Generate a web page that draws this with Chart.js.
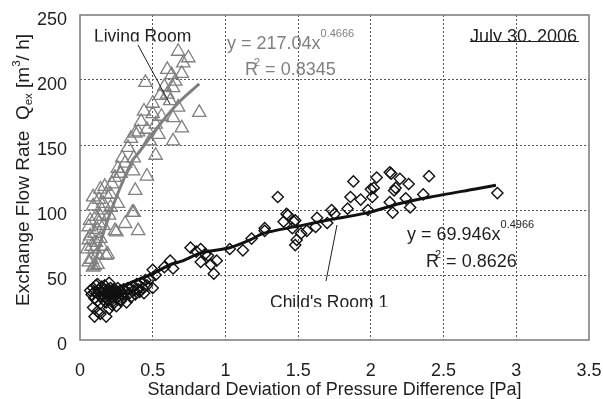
<!DOCTYPE html>
<html>
<head>
<meta charset="utf-8">
<script src="https://cdn.jsdelivr.net/npm/chart.js@4/dist/chart.umd.min.js"></script>
<style>
  html, body { margin: 0; padding: 0; background: #fff; }
</style>
</head>
<body>
<canvas id="flowChart" width="603" height="399"></canvas>
<script>
/* ---------- data ---------- */
const xTicks = [0, 0.5, 1, 1.5, 2, 2.5, 3, 3.5];
const yTicks = [0, 50, 100, 150, 200, 250];

// Living Room (grey triangles)
const livingPoints = [
    [0.675,222],[0.745,217],[0.71,213],[0.45,198],[0.63,204],[0.70,205],[0.655,199],[0.64,194],
    [0.82,175],[0.60,189],[0.62,184],[0.675,179],[0.50,174],[0.56,172],[0.64,171],[0.70,163],
    [0.38,159],[0.46,162],[0.54,158],[0.48,153],[0.64,153],[0.52,142],[0.31,136],[0.37,140],
    [0.275,128],[0.46,126],[0.38,115],[0.14,116],[0.21,112],[0.37,98],[0.31,89.5],[0.40,84],
    [0.25,83],[0.21,102],[0.07,80],[0.12,66],[0.19,66],[0.09,56],[0.07,92],[0.365,130],
    [0.28,128],[0.18,112],[0.26,105],[0.36,98],[0.09,103],[0.24,84],[0.06,87],[0.06,77],
    [0.18,65],[0.10,57],[0.05,70],[0.08,62],[0.10,70],[0.11,75],[0.12,85],[0.13,90],
    [0.14,95],[0.15,100],[0.16,105],[0.11,95],[0.13,108],[0.17,118],[0.09,110],[0.10,82],
    [0.14,78],[0.16,88],[0.20,96],[0.22,120],[0.24,125],[0.26,132],[0.29,140],[0.33,148],
    [0.35,155],[0.40,160],[0.42,168],[0.44,176],[0.50,182],[0.55,188],[0.58,195],[0.60,208],
    [0.52,166],[0.06,60],[0.08,72],[0.12,58],[0.15,72]
];
const livingTrend = [[0.09,54],[0.16,82],[0.25,110],[0.36,138],[0.41,145],[0.55,166],[0.69,184],[0.82,197]];

// Child's Room 1 (black diamonds)
const childPoints = [
    [0.07,38],[0.08,35],[0.09,40],[0.10,37],[0.10,32],[0.11,42],[0.12,36],[0.12,30],[0.13,39],
    [0.14,34],[0.14,28],[0.15,41],[0.15,36],[0.16,31],[0.16,38],[0.17,33],[0.17,42],[0.18,36],
    [0.18,29],[0.19,39],[0.19,34],[0.20,37],[0.20,31],[0.21,40],[0.21,35],[0.22,33],[0.22,38],
    [0.23,36],[0.23,30],[0.24,39],[0.24,34],[0.25,37],[0.26,33],[0.26,40],[0.27,36],[0.28,38],
    [0.28,31],[0.29,35],[0.30,39],[0.30,33],[0.31,37],[0.32,29],[0.33,40],[0.34,36],[0.35,33],
    [0.36,41],[0.37,38],[0.38,35],[0.39,43],[0.40,39],[0.41,37],[0.42,44],[0.43,40],[0.44,36],
    [0.45,46],[0.46,42],[0.48,47],[0.50,54],[0.50,40],[0.52,50],[0.10,18],[0.12,22],[0.14,20],
    [0.18,18],[0.20,24],[0.22,27],[0.25,26],[0.28,30],[0.09,25],[0.12,43],[0.20,44],
    [0.62,61],[0.64,55],[0.58,56],[0.76,71],[0.80,68],[0.83,70],[0.83,60],[0.86,66],[0.88,65],
    [0.92,51],[0.94,61],[0.90,58],[1.03,70],[1.12,69],[1.18,78],[1.27,84],[1.27,86],[1.36,110],
    [1.40,91],[1.42,97],[1.43,96],[1.46,86],[1.48,92],[1.47,91],[1.49,77],[1.48,73],[1.52,82],
    [1.56,84],[1.62,87],[1.63,94],[1.70,90],[1.73,100],[1.75,97],[1.84,101],[1.86,110],[1.88,122],
    [1.93,108],[1.98,100],[2.00,116],[2.01,110],[2.02,117],[2.04,125],[2.13,129],[2.13,106],
    [2.14,128],[2.15,98],[2.16,115],[2.17,117],[2.20,124],[2.24,109],[2.26,120],[2.27,102],
    [2.36,112],[2.40,126],[2.87,113]
];
const childTrend = [[0.09,33],[0.30,42],[0.50,51],[0.62,58],[0.71,61],[0.83,67],[1.03,71],[1.17,77],
    [1.26,82],[1.47,87],[1.52,88],[1.74,93],[1.98,98],[2.20,105],[2.41,110],[2.71,116],[2.86,119]];

const FONT = "'Liberation Sans', Arial, sans-serif";
const GREY = "#808080";
const INK = "#1e1e1e";

const toXY = arr => arr.map(p => ({ x: p[0], y: p[1] }));

// draw a run of text pieces: [text, size, dy, dx]
function drawRuns(ctx, x, y, parts) {
    let cx = x;
    parts.forEach(([t, s, dy, dx]) => {
        cx += dx || 0;
        ctx.font = s + "px " + FONT;
        ctx.fillText(t, cx, y + dy);
        cx += ctx.measureText(t).width;
    });
}
function runsWidth(ctx, parts) {
    let w = 0;
    parts.forEach(([t, s, dy, dx]) => { ctx.font = s + "px " + FONT; w += ctx.measureText(t).width + (dx || 0); });
    return w;
}

/* ---------- frame, titles and notes ---------- */
const notesPlugin = {
    id: "notes",
    afterDraw(chart) {
        const ctx = chart.ctx;
        const a = chart.chartArea;
        ctx.save();

        // frame
        ctx.strokeStyle = "#7a7a7a";
        ctx.lineWidth = 1.5;
        ctx.strokeRect(a.left, a.top, a.right - a.left, a.bottom - a.top);

        ctx.textBaseline = "alphabetic";
        ctx.textAlign = "left";

        // x title
        ctx.fillStyle = INK;
        ctx.font = "18px " + FONT;
        ctx.textAlign = "center";
        ctx.fillText("Standard Deviation of Pressure Difference [Pa]", (a.left + a.right) / 2, 395);
        ctx.textAlign = "left";

        // y title (rotated)
        const yParts = [["Exchange Flow Rate  Q", 19, 0], ["ex", 11.5, 3], [" [m", 19, 0], ["3", 11.5, -9], ["/ h]", 19, 0]];
        ctx.save();
        ctx.translate(29, 170);
        ctx.rotate(-Math.PI / 2);
        drawRuns(ctx, -runsWidth(ctx, yParts) / 2, 0, yParts);
        ctx.restore();

        // Living Room label (clipped like the original)
        ctx.save();
        ctx.beginPath();
        ctx.rect(80, 20, 200, 21.5);
        ctx.clip();
        ctx.fillStyle = INK;
        ctx.font = "17.5px " + FONT;
        ctx.fillText("Living Room", 94, 42);
        ctx.restore();

        // July 30, 2006
        ctx.save();
        ctx.beginPath();
        ctx.rect(460, 20, 130, 21.5);
        ctx.clip();
        ctx.fillStyle = INK;
        ctx.font = "18px " + FONT;
        ctx.fillText("July 30, 2006", 470, 42);
        ctx.restore();
        ctx.strokeStyle = INK;
        ctx.lineWidth = 1;
        ctx.beginPath();
        ctx.moveTo(470, 41.5);
        ctx.lineTo(579, 41.5);
        ctx.stroke();

        // Child's Room 1
        ctx.save();
        ctx.beginPath();
        ctx.rect(260, 290, 140, 17);
        ctx.clip();
        ctx.fillStyle = INK;
        ctx.font = "17.5px " + FONT;
        ctx.fillText("Child's Room 1", 270, 308);
        ctx.restore();

        // leader lines
        ctx.strokeStyle = INK;
        ctx.lineWidth = 1;
        ctx.beginPath();
        ctx.moveTo(138, 45); ctx.lineTo(170, 104);
        ctx.moveTo(337, 225); ctx.lineTo(326, 281);
        ctx.stroke();

        // equations
        ctx.fillStyle = GREY;
        drawRuns(ctx, 227, 49, [["y = 217.04x", 18, 0], ["0.4666", 11, -12]]);
        drawRuns(ctx, 245, 75, [["R", 18, 0], ["2", 11, -9, -4], [" = 0.8345", 18, 0]]);
        ctx.fillStyle = INK;
        drawRuns(ctx, 407, 240, [["y = 69.946x", 18, 0], ["0.4966", 11, -12]]);
        drawRuns(ctx, 426, 267, [["R", 18, 0], ["2", 11, -9, -4], [" = 0.8626", 18, 0]]);

        ctx.restore();
    }
};

const gridColor = c => (c.tick && (c.tick.value === c.scale.min || c.tick.value === c.scale.max)) ? "rgba(0,0,0,0)" : "#555";

new Chart(document.getElementById("flowChart"), {
    type: "scatter",
    data: {
        datasets: [
            {
                data: toXY(childTrend),
                showLine: true,
                borderColor: "#111",
                borderWidth: 3,
                pointRadius: 0,
                tension: 0.25,
                order: 0
            },
            {
                data: toXY(livingTrend),
                showLine: true,
                borderColor: GREY,
                borderWidth: 3,
                pointRadius: 0,
                tension: 0.25,
                order: 1
            },
            {
                data: toXY(childPoints),
                pointStyle: "rectRot",
                pointRadius: 5.6,
                borderColor: "#111",
                borderWidth: 1.4,
                backgroundColor: "rgba(0,0,0,0)",
                order: 2
            },
            {
                data: toXY(livingPoints),
                pointStyle: "triangle",
                pointRadius: 7.7,
                borderColor: GREY,
                borderWidth: 1.3,
                backgroundColor: "rgba(0,0,0,0)",
                order: 3
            }
        ]
    },
    options: {
        responsive: false,
        animation: false,
        events: [],
        layout: { padding: { top: 15, right: 14, left: 0, bottom: 0 } },
        plugins: {
            legend: { display: false },
            tooltip: { enabled: false }
        },
        scales: {
            x: {
                type: "linear",
                min: xTicks[0],
                max: xTicks[xTicks.length - 1],
                afterFit: s => { s.height = 59; s.paddingLeft = 0; s.paddingRight = 0; },
                afterBuildTicks: s => { s.ticks = xTicks.map(v => ({ value: v })); },
                ticks: {
                    color: INK,
                    font: { family: FONT, size: 18 },
                    padding: 20,
                    maxRotation: 0,
                    callback: v => String(v)
                },
                grid: { color: gridColor, lineWidth: 1, drawTicks: false },
                border: { display: false, dash: [2, 2] }
            },
            y: {
                type: "linear",
                min: yTicks[0],
                max: yTicks[yTicks.length - 1],
                afterFit: s => { s.width = 80; s.paddingTop = 0; s.paddingBottom = 0; },
                afterBuildTicks: s => { s.ticks = yTicks.map(v => ({ value: v })); },
                ticks: {
                    color: INK,
                    font: { family: FONT, size: 18 },
                    padding: 13,
                    labelOffset: 5.5,
                    callback: v => String(v)
                },
                grid: { color: gridColor, lineWidth: 1, drawTicks: false },
                border: { display: false, dash: [2, 2] }
            }
        }
    },
    plugins: [notesPlugin]
});
</script>
</body>
</html>
